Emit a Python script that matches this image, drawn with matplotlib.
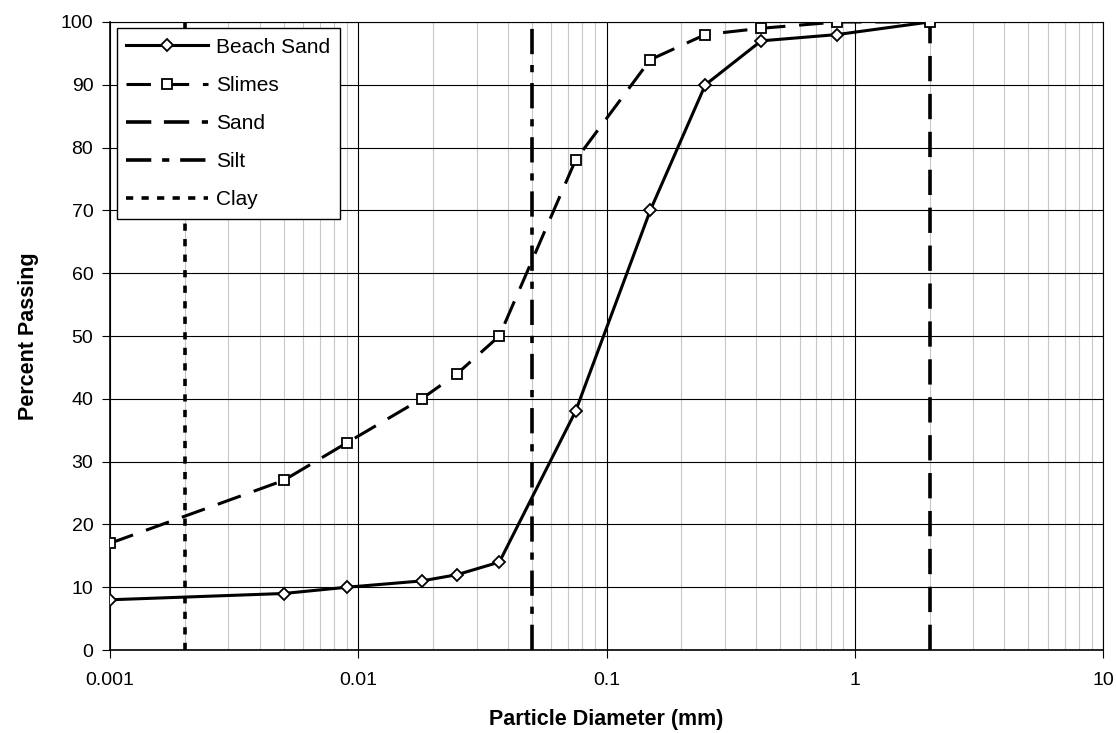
import matplotlib
matplotlib.use("Agg")
import matplotlib.pyplot as plt
from matplotlib.ticker import FixedLocator, LogLocator, NullFormatter, FixedFormatter

plt.rcParams['font.family'] = ['Liberation Sans', 'DejaVu Sans']

beach_d = [0.001, 0.005, 0.009, 0.018, 0.025, 0.037, 0.075, 0.15, 0.25, 0.42, 0.85, 2.0]
beach_p = [8, 9, 10, 11, 12, 14, 38, 70, 90, 97, 98, 100]

slimes_d = [0.001, 0.005, 0.009, 0.018, 0.025, 0.037, 0.075, 0.15, 0.25, 0.42, 0.85, 2.0]
slimes_p = [17, 27, 33, 40, 44, 50, 78, 94, 98, 99, 100, 100]

sand_x = [2.0, 2.0]
silt_x = [0.05, 0.05]
clay_x = [0.002, 0.002]
bound_y = [0, 100]

xticks = [0.001, 0.01, 0.1, 1, 10]
xticklabels = ['0.001', '0.01', '0.1', '1', '10']
yticks = list(range(0, 101, 10))

fig = plt.figure(figsize=(11.16, 7.33), dpi=100)
ax = fig.add_axes([0.0986, 0.1132, 0.8898, 0.8568])

lw = 2.2
ax.plot(beach_d, beach_p, color='black', lw=lw, marker='D', markersize=6.5,
        markerfacecolor='white', markeredgecolor='black', markeredgewidth=1.3,
        label='Beach Sand', zorder=5)
ax.plot(slimes_d, slimes_p, color='black', lw=lw, dashes=(8, 4.5), marker='s',
        markersize=7, markerfacecolor='white', markeredgecolor='black',
        markeredgewidth=1.3, label='Slimes', zorder=5)
ax.plot(sand_x, bound_y, color='black', lw=lw + 0.4, dashes=(7, 3.5), label='Sand', zorder=4)
ax.plot(silt_x, bound_y, color='black', lw=lw + 0.4, dashes=(7, 3, 2, 3), label='Silt', zorder=4)
ax.plot(clay_x, bound_y, color='black', lw=lw + 0.4, dashes=(2, 2.3), label='Clay', zorder=4)

ax.set_xscale('log')
ax.set_xlim(0.001, 10)
ax.set_ylim(0, 100)

ax.xaxis.set_major_locator(FixedLocator(xticks))
ax.xaxis.set_major_formatter(FixedFormatter(xticklabels))
ax.xaxis.set_minor_locator(LogLocator(base=10, subs=range(2, 10)))
ax.xaxis.set_minor_formatter(NullFormatter())
ax.set_yticks(yticks)

ax.grid(which='major', axis='both', color='black', lw=0.8, zorder=0)
ax.grid(which='minor', axis='x', color='#c8c8c8', lw=0.8, zorder=0)
ax.set_axisbelow(True)

ax.tick_params(axis='both', which='major', direction='out', length=6, width=0.8,
               labelsize=14, pad=6)
ax.tick_params(axis='x', which='major', pad=10)
ax.tick_params(axis='x', which='minor', length=0)

for s in ax.spines.values():
    s.set_linewidth(0.8)
    s.set_color('black')
ax.spines['left'].set_linewidth(1.2)
ax.spines['bottom'].set_linewidth(1.2)

ax.set_xlabel('Particle Diameter (mm)', fontsize=15.5, fontweight='bold', labelpad=14)
ax.set_ylabel('Percent Passing', fontsize=15.5, fontweight='bold', labelpad=16)

leg = ax.legend(loc='upper left', bbox_to_anchor=(0.0071, 0.99), fontsize=15,
                frameon=True, fancybox=False, edgecolor='black', framealpha=1,
                numpoints=1, handlelength=3.9, handletextpad=0.4,
                borderpad=0.45, labelspacing=0.92, borderaxespad=0)
leg.get_frame().set_linewidth(1.0)
leg.set_zorder(10)

fig.savefig('out.png', dpi=100)
